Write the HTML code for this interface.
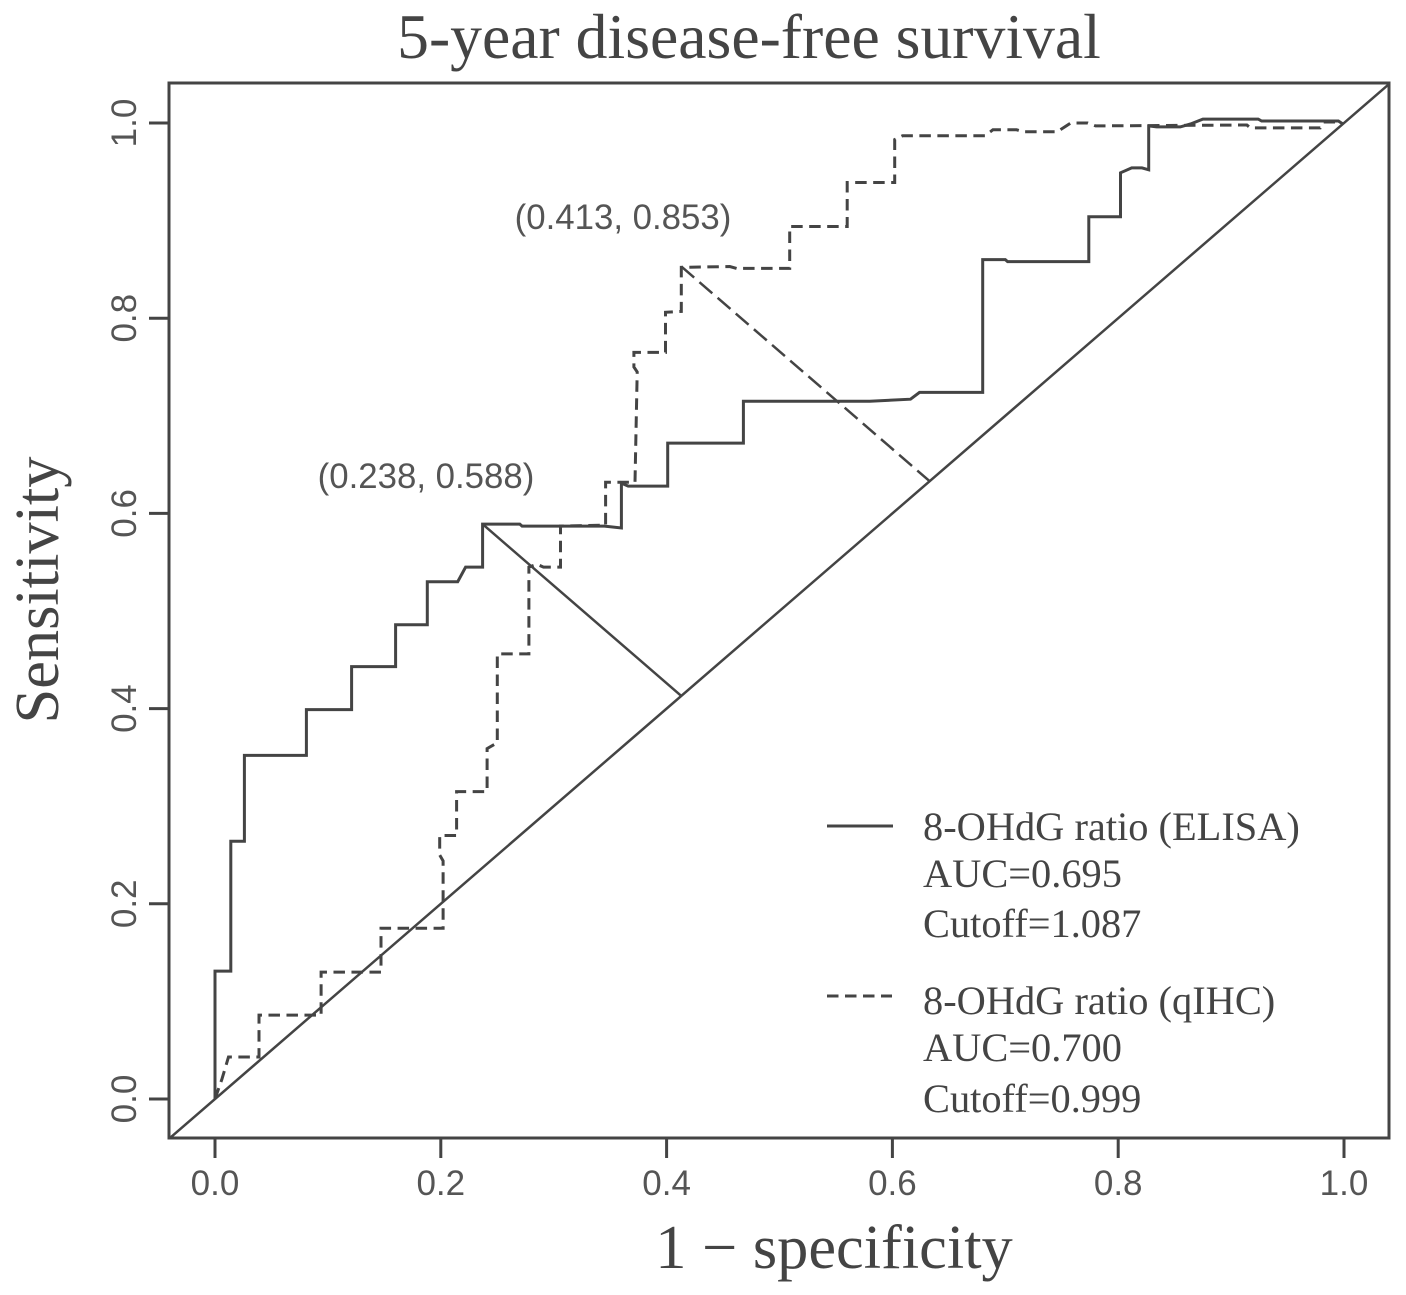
<!DOCTYPE html>
<html lang="en">
<head>
<meta charset="utf-8">
<title>5-year disease-free survival</title>
<style>
html,body{margin:0;padding:0;background:#fff;}
svg{display:block;}
.serif{font-family:"Liberation Serif",serif;fill:#444;}
.sans{font-family:"Liberation Sans",sans-serif;fill:#555;}
</style>
</head>
<body>
<svg id="chart" xmlns="http://www.w3.org/2000/svg" width="1406" height="1295" viewBox="0 0 1406 1295">
  <rect x="0" y="0" width="1406" height="1295" fill="#fff"/>
  <text class="serif" x="749" y="58" font-size="63.7" text-anchor="middle">5-year disease-free survival</text>
  <text class="serif" x="834" y="1268" font-size="62.4" text-anchor="middle">1 − specificity</text>
  <text class="serif" transform="translate(58,590) rotate(-90)" font-size="62.4" text-anchor="middle">Sensitivity</text>
  <text class="sans" x="426" y="488" font-size="34.8" text-anchor="middle">(0.238, 0.588)</text>
  <text class="sans" x="623" y="229" font-size="34.8" text-anchor="middle">(0.413, 0.853)</text>
  <g id="legend">
    <line x1="827" y1="826" x2="893" y2="826" stroke="#444" stroke-width="3"/>
    <line x1="827" y1="996" x2="892" y2="996" stroke="#444" stroke-width="3" stroke-dasharray="11.5 6.5"/>
    <text class="serif" x="923" y="840" font-size="40.4">8-OHdG ratio (ELISA)</text>
    <text class="serif" x="923" y="887" font-size="40.4">AUC=0.695</text>
    <text class="serif" x="923" y="937" font-size="40.4">Cutoff=1.087</text>
    <text class="serif" x="923" y="1014" font-size="40.4">8-OHdG ratio (qIHC)</text>
    <text class="serif" x="923" y="1061" font-size="40.4">AUC=0.700</text>
    <text class="serif" x="923" y="1112" font-size="40.4">Cutoff=0.999</text>
  </g>
</svg>
<script>
const xTickValues = [0, 0.2, 0.4, 0.6, 0.8, 1.0];
const xTickLabels = ["0.0", "0.2", "0.4", "0.6", "0.8", "1.0"];
const yTickValues = [0, 0.2, 0.4, 0.6, 0.8, 1.0];
const yTickLabels = ["0.0", "0.2", "0.4", "0.6", "0.8", "1.0"];

const elisaFpr = [0,0,.014,.014,.026,.026,.081,.081,.121,.121,.160,.160,.188,.188,.215,.222,.237,.237,.270,.272,.345,.360,.360,.366,.401,.401,.468,.468,.580,.616,.624,.680,.680,.700,.702,.774,.774,.802,.802,.812,.821,.827,.827,.834,.855,.864,.875,.924,.927,.995,.999];
const elisaTpr = [0,.131,.131,.264,.264,.352,.352,.399,.399,.443,.443,.486,.486,.530,.530,.545,.545,.589,.589,.587,.587,.585,.631,.628,.628,.672,.672,.715,.715,.717,.724,.724,.860,.860,.858,.858,.904,.904,.949,.954,.954,.952,.997,.996,.996,.999,1.004,1.004,1.002,1.002,.999];

const qihcFpr = [0,.006,.012,.039,.039,.094,.094,.147,.147,.202,.202,.199,.199,.214,.214,.241,.241,.250,.250,.278,.278,.285,.291,.306,.306,.346,.346,.372,.374,.371,.371,.399,.399,.413,.413,.456,.462,.509,.509,.560,.560,.602,.602,.609,.682,.689,.710,.716,.746,.758,.773,.780,.914,.917,.979,.982,.995,.999];
const qihcTpr = [0,.020,.043,.043,.086,.086,.130,.130,.175,.175,.244,.250,.270,.270,.315,.315,.359,.365,.456,.456,.545,.548,.545,.545,.587,.588,.632,.632,.745,.750,.765,.765,.806,.807,.852,.853,.851,.851,.894,.894,.939,.939,.983,.987,.987,.993,.993,.991,.991,1.000,1.000,.997,.998,.995,.995,1.001,1.001,.999];

const elisaCutoffPoint = [0.238, 0.588];
const qihcCutoffPoint = [0.413, 0.853];
const axisLimits = [-0.04, 1.04];

const SVG_NS = "http://www.w3.org/2000/svg";
const svg = document.getElementById("chart");
const legendGroup = document.getElementById("legend");
const INK = "#444";

function sx(v) { return 215 + 1129 * v; }
function sy(v) { return 1099 - 976 * v; }

function make(tag, attrs) {
  const el = document.createElementNS(SVG_NS, tag);
  for (const k in attrs) el.setAttribute(k, attrs[k]);
  return el;
}

function addLine(x1, y1, x2, y2, width, dash) {
  const el = make("line", { x1: x1, y1: y1, x2: x2, y2: y2, stroke: INK, "stroke-width": width });
  if (dash) el.setAttribute("stroke-dasharray", dash);
  svg.insertBefore(el, legendGroup);
  return el;
}

function addCurve(xs, ys, dash) {
  const pts = xs.map((x, i) => sx(x).toFixed(1) + "," + sy(ys[i]).toFixed(1)).join(" ");
  const el = make("polyline", { points: pts, fill: "none", stroke: INK, "stroke-width": 3, "stroke-linejoin": "miter" });
  if (dash) el.setAttribute("stroke-dasharray", dash);
  svg.insertBefore(el, legendGroup);
  return el;
}

const frame = make("rect", { x: 169, y: 83, width: 1220, height: 1055, fill: "none", stroke: INK, "stroke-width": 3 });


svg.insertBefore(frame, legendGroup);

xTickValues.forEach((v, i) => {
  const tick = addLine(sx(v), 1138, sx(v), 1158, 3);
  
  
  const label = make("text", { x: sx(v), y: 1195, "font-size": 35, "text-anchor": "middle", class: "sans" });
  label.textContent = xTickLabels[i];
  
  
  svg.insertBefore(label, legendGroup);
});

yTickValues.forEach((v, i) => {
  const tick = addLine(149, sy(v), 169, sy(v), 3);
  
  
  const label = make("text", { transform: "translate(136," + sy(v) + ") rotate(-90)", "font-size": 35, "text-anchor": "middle", class: "sans" });
  label.textContent = yTickLabels[i];
  
  
  svg.insertBefore(label, legendGroup);
});

const diagonal = addLine(sx(axisLimits[0]), sy(axisLimits[0]), sx(axisLimits[1]), sy(axisLimits[1]), 2.5);



const elisaCurve = addCurve(elisaFpr, elisaTpr);



const qihcCurve = addCurve(qihcFpr, qihcTpr, "11.5 6.5");



const elisaFoot = (elisaCutoffPoint[0] + elisaCutoffPoint[1]) / 2;
const elisaDrop = addLine(sx(elisaCutoffPoint[0]), sy(elisaCutoffPoint[1]), sx(elisaFoot), sy(elisaFoot), 2.5);



const qihcFoot = (qihcCutoffPoint[0] + qihcCutoffPoint[1]) / 2;
const qihcDrop = addLine(sx(qihcCutoffPoint[0]), sy(qihcCutoffPoint[1]), sx(qihcFoot), sy(qihcFoot), 2.5, "17 7");


</script>
</body>
</html>
